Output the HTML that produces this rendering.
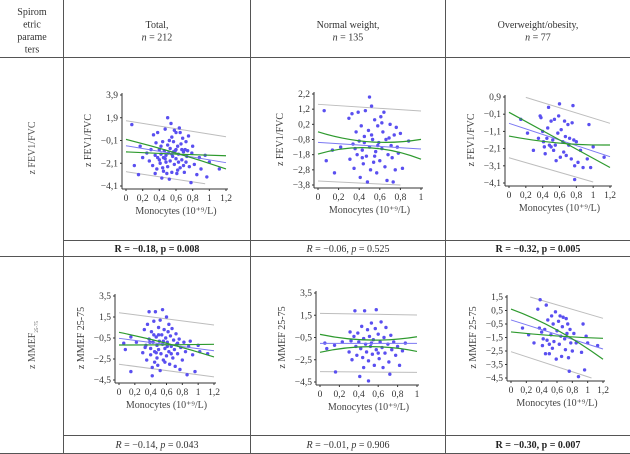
<!DOCTYPE html>
<html><head><meta charset="utf-8">
<style>
html,body{margin:0;padding:0;background:#fff;}
svg{display:block;font-family:"Liberation Serif",serif;}
</style></head>
<body>
<svg id="root" width="630" height="454" viewBox="0 0 630 454" xmlns="http://www.w3.org/2000/svg">
<g stroke="#555" stroke-width="1">
<line x1="0" y1="57.5" x2="630" y2="57.5"/>
<line x1="63.5" y1="240.5" x2="630" y2="240.5"/>
<line x1="0" y1="256.5" x2="630" y2="256.5"/>
<line x1="63.5" y1="435.5" x2="630" y2="435.5"/>
<line x1="0" y1="453.5" x2="630" y2="453.5"/>
<line x1="63.5" y1="0" x2="63.5" y2="454"/>
<line x1="250.5" y1="0" x2="250.5" y2="454"/>
<line x1="445.5" y1="0" x2="445.5" y2="454"/>
</g>
<g font-size="10" fill="#333" text-anchor="middle">
<text x="32" y="15"><tspan x="32">Spirom</tspan><tspan x="32" dy="12.5">etric</tspan><tspan x="32" dy="12.5">parame</tspan><tspan x="32" dy="12.5">ters</tspan></text>
<text x="157" y="28"><tspan x="157">Total,</tspan><tspan x="157" dy="12.5"><tspan font-style="italic">n</tspan> = 212</tspan></text>
<text x="348" y="28"><tspan x="348">Normal weight,</tspan><tspan x="348" dy="12.5"><tspan font-style="italic">n</tspan> = 135</tspan></text>
<text x="538" y="28"><tspan x="538">Overweight/obesity,</tspan><tspan x="538" dy="12.5"><tspan font-style="italic">n</tspan> = 77</tspan></text>
<text transform="translate(35,148) rotate(-90)" fill="#555">z FEV1/FVC</text>
<text transform="translate(35,345) rotate(-90)" fill="#555">z MMEF<tspan font-size="5" dy="3">25-75</tspan></text>
<text x="157" y="252" font-weight="bold" fill="#222">R = −0.18, p = 0.008</text>
<text x="348" y="252"><tspan font-style="italic">R</tspan> = −0.06, <tspan font-style="italic">p</tspan> = 0.525</text>
<text x="538" y="252" font-weight="bold" fill="#222">R = −0.32, p = 0.005</text>
<text x="157" y="448"><tspan font-style="italic">R</tspan> = −0.14, <tspan font-style="italic">p</tspan> = 0.043</text>
<text x="348" y="448"><tspan font-style="italic">R</tspan> = −0.01, <tspan font-style="italic">p</tspan> = 0.906</text>
<text x="538" y="448" font-weight="bold" fill="#222">R = −0.30, p = 0.007</text>
</g>
</svg>
<script>
// ---- data ----
const ticks1=[3.9,1.9,-0.1,-2.1,-4.1];
const ticks2=[2.2,1.2,0.2,-0.8,-1.8,-2.8,-3.8];
const ticks3=[0.9,-0.1,-1.1,-2.1,-3.1,-4.1];
const ticks4=[3.5,1.5,-0.5,-2.5,-4.5];
const ticks5=[3.5,1.5,-0.5,-2.5,-4.5];
const ticks6=[1.5,0.5,-0.5,-1.5,-2.5,-3.5,-4.5];
const xticksWide=[0,0.2,0.4,0.6,0.8,1,1.2];
const xticksNarrow=[0,0.2,0.4,0.6,0.8,1];

const pts1=[[0.07,1.3],[0.1,-2.3],[0.15,-3.1],[0.17,-0.6],[0.2,-1.6],[0.25,-1.2],[0.28,-1.9],[0.3,-0.9],[0.32,-2.3],[0.33,0.4],[0.35,-1.4],[0.36,-0.3],[0.37,-2.6],[0.38,0.6],[0.4,-1.8],[0.4,-0.9],[0.41,-2.1],[0.42,-1.3],[0.43,-3.4],[0.44,-0.2],[0.45,-1.6],[0.45,-2.8],[0.46,-1.0],[0.47,0.9],[0.48,-2.0],[0.48,-1.4],[0.5,1.9],[0.5,-0.5],[0.5,-2.4],[0.51,-1.2],[0.52,-3.5],[0.53,-0.8],[0.53,-1.9],[0.54,1.4],[0.55,0.2],[0.55,-2.9],[0.56,-1.5],[0.57,-0.2],[0.58,-2.2],[0.59,-1.0],[0.6,0.6],[0.6,-1.7],[0.61,-3.0],[0.62,-0.6],[0.63,-1.3],[0.64,1.0],[0.65,-2.5],[0.66,-0.4],[0.67,-1.8],[0.68,0.1],[0.69,-1.1],[0.7,-2.9],[0.71,-0.9],[0.72,-2.0],[0.73,-1.5],[0.75,0.3],[0.76,-2.4],[0.78,-3.8],[0.79,-1.2],[0.8,-0.6],[0.82,-2.2],[0.85,-3.1],[0.88,-1.6],[0.9,-2.6],[0.95,-1.4],[0.97,-3.3],[1.0,-2.0],[1.12,-2.6],[0.35,-3.0],[0.58,0.8],[0.44,-2.5],[0.62,-2.7],[0.42,-0.6],[0.47,-1.7],[0.52,-0.1],[0.57,-1.1],[0.63,-2.0],[0.67,-0.9],[0.72,-0.2],[0.38,-1.6],[0.49,-3.0],[0.55,-1.3],[0.6,-0.9],[0.65,0.6],[0.69,-2.3],[0.74,-1.0]];
const pts2=[[0.06,1.1],[0.08,-2.2],[0.14,-1.5],[0.16,-3.0],[0.22,-1.3],[0.3,0.6],[0.31,-2.1],[0.33,0.9],[0.34,-1.1],[0.35,-2.7],[0.37,-0.3],[0.38,-1.8],[0.39,1.0],[0.4,-0.9],[0.41,-3.3],[0.42,0.1],[0.43,-1.5],[0.44,-2.4],[0.45,-0.6],[0.46,1.1],[0.47,-1.9],[0.48,-3.6],[0.49,-0.2],[0.5,2.0],[0.5,-1.3],[0.51,-2.8],[0.52,1.4],[0.53,-0.8],[0.54,-2.3],[0.55,0.5],[0.56,-1.6],[0.57,-3.0],[0.58,0.1],[0.59,-1.0],[0.6,-2.2],[0.61,0.7],[0.62,-1.4],[0.63,-0.3],[0.64,1.0],[0.65,-2.6],[0.66,-0.8],[0.67,-3.5],[0.68,-1.8],[0.7,0.2],[0.71,-1.2],[0.72,-2.0],[0.74,-0.5],[0.75,-2.8],[0.76,0.0],[0.78,-1.7],[0.8,-0.4],[0.82,-2.7],[0.88,-0.9],[0.73,-3.6],[0.45,-1.0],[0.36,-1.4],[0.52,-0.5],[0.58,-1.2],[0.62,0.3],[0.69,-0.7],[0.77,-1.3],[0.43,-2.0],[0.55,-1.9]];
const pts3=[[0.14,-0.4],[0.22,-1.2],[0.29,-2.2],[0.35,-1.5],[0.37,-0.2],[0.38,-0.3],[0.4,-1.1],[0.41,-1.7],[0.42,-2.0],[0.43,-2.4],[0.45,-1.5],[0.46,-0.9],[0.47,0.3],[0.48,-1.9],[0.5,-0.5],[0.5,-2.0],[0.52,-1.6],[0.53,-2.2],[0.54,-0.4],[0.55,-1.9],[0.56,-2.8],[0.58,-1.2],[0.59,-0.2],[0.6,0.5],[0.61,-2.6],[0.62,-1.0],[0.64,-1.7],[0.65,-2.3],[0.66,-0.5],[0.67,-1.4],[0.68,-2.5],[0.7,-0.7],[0.71,-1.9],[0.72,-1.5],[0.74,-2.7],[0.75,-0.6],[0.76,0.4],[0.77,-1.6],[0.78,-3.1],[0.78,-3.9],[0.8,-1.7],[0.82,-2.9],[0.85,-2.2],[0.88,-3.2],[0.93,-2.7],[0.95,-0.7],[0.97,-3.2],[1.0,-2.0],[1.13,-2.6]];
const pts4=[[0.06,-1.0],[0.08,-1.6],[0.15,-0.4],[0.15,-3.7],[0.22,-0.9],[0.3,-1.9],[0.32,0.3],[0.34,-1.2],[0.35,-2.6],[0.36,0.8],[0.38,-0.6],[0.38,2.0],[0.4,-1.5],[0.4,-2.1],[0.41,0.1],[0.42,-3.3],[0.43,-0.9],[0.44,1.1],[0.45,-1.8],[0.45,-2.8],[0.46,2.0],[0.47,-0.4],[0.48,-1.2],[0.48,-2.4],[0.5,0.5],[0.5,-1.6],[0.51,-0.8],[0.52,-3.6],[0.52,1.2],[0.53,-2.0],[0.54,-0.2],[0.55,2.2],[0.55,-1.1],[0.56,-2.6],[0.57,0.3],[0.58,-1.5],[0.59,-0.5],[0.6,1.5],[0.6,-2.2],[0.61,-0.9],[0.62,0.1],[0.63,-1.8],[0.64,-3.0],[0.65,-0.3],[0.66,-1.3],[0.67,0.4],[0.68,-2.4],[0.69,-0.7],[0.7,-1.6],[0.71,-3.2],[0.72,-0.1],[0.73,-1.1],[0.74,-2.0],[0.76,-0.6],[0.77,-3.5],[0.78,-1.4],[0.8,-2.6],[0.82,-0.9],[0.84,-1.8],[0.86,-4.0],[0.88,-1.3],[0.9,-0.8],[0.93,-2.1],[0.96,-3.7],[1.0,-1.2],[1.02,-1.8],[1.12,-2.0],[0.33,-1.4],[0.44,-0.2],[0.49,-3.1],[0.58,-2.8],[0.63,0.8],[0.42,-4.1],[0.5,-0.2],[0.56,-0.8],[0.61,-1.3],[0.66,-2.0],[0.74,-1.0],[0.47,-1.9],[0.39,-0.9]];
const pts5=[[0.05,-1.0],[0.07,-1.5],[0.15,-1.2],[0.16,-3.6],[0.23,-0.9],[0.3,-1.8],[0.31,0.0],[0.32,-0.8],[0.33,-2.5],[0.35,-0.4],[0.36,1.9],[0.37,-1.3],[0.38,-2.1],[0.39,-0.1],[0.4,-0.9],[0.41,-4.0],[0.42,-1.5],[0.43,0.5],[0.44,-2.3],[0.45,-0.6],[0.46,1.9],[0.47,-1.1],[0.48,-1.8],[0.49,0.2],[0.5,-2.6],[0.5,-4.4],[0.51,-0.4],[0.52,-1.3],[0.53,0.8],[0.54,-2.0],[0.55,-0.7],[0.56,-3.0],[0.57,0.3],[0.58,2.0],[0.58,-1.6],[0.6,-0.2],[0.61,-2.4],[0.62,-0.9],[0.63,0.9],[0.64,-1.4],[0.65,-3.2],[0.66,-0.5],[0.67,-1.9],[0.68,0.4],[0.7,-1.1],[0.71,-2.7],[0.72,-3.8],[0.73,-0.3],[0.74,-1.6],[0.76,-0.9],[0.78,-2.1],[0.8,-1.3],[0.82,-3.0],[0.85,-1.7],[0.88,-1.0],[0.45,-3.2],[0.53,-1.0],[0.6,-1.9]];
const pts6=[[0.15,-0.8],[0.23,-1.3],[0.3,-1.9],[0.35,0.6],[0.37,-0.8],[0.38,1.3],[0.4,-1.1],[0.41,-2.1],[0.42,-1.6],[0.44,-0.9],[0.45,-2.7],[0.46,0.9],[0.47,-1.7],[0.48,-0.2],[0.5,-2.0],[0.5,-2.7],[0.52,-1.3],[0.53,0.1],[0.54,-2.3],[0.55,-0.5],[0.56,-1.8],[0.58,0.4],[0.59,-3.1],[0.6,-1.0],[0.62,-0.3],[0.63,-2.0],[0.64,0.1],[0.65,-1.4],[0.66,-2.9],[0.67,-0.7],[0.68,0.0],[0.7,-1.6],[0.71,-2.4],[0.72,-0.1],[0.73,-1.2],[0.74,-0.5],[0.75,-3.0],[0.76,-4.0],[0.77,-0.9],[0.78,-1.9],[0.8,-2.5],[0.82,-1.2],[0.85,-1.9],[0.88,-4.4],[0.92,-2.6],[0.94,-0.5],[0.96,-3.9],[0.98,-1.4],[1.0,-1.9],[1.13,-2.1]];

const reg1=[[0,-0.56],[1.2,-2.05]], ciU1=[[0,0.0],[0.6,-1.2],[1.2,-2.6]], ciL1=[[0,-1.1],[0.6,-1.3],[1.2,-1.44]], piU1=[[0,1.64],[1.2,0.23]], piL1=[[0,-2.84],[0.95,-3.9]];
const reg2=[[0,-0.99],[1,-1.43]], ciU2=[[0,-0.29],[0.5,-0.95],[1,-0.79]], ciL2=[[0,-1.76],[0.5,-1.35],[1,-2.1]], piU2=[[0,1.52],[1,1.08]], piL2=[[0,-3.54],[0.8,-3.8]];
const reg3=[[0,-0.63],[1.2,-2.57]], ciU3=[[0,0.01],[0.6,-1.6],[1.2,-3.2]], ciL3=[[0,-1.37],[0.6,-1.78],[1.2,-1.89]], piU3=[[0.2,0.88],[1.2,-0.63]], piL3=[[0,-2.63],[1,-4.04]];
const reg4=[[0,-0.53],[1.2,-1.71]], ciU4=[[0,0.04],[0.6,-1.0],[1.2,-2.3]], ciL4=[[0,-1.17],[0.6,-1.15],[1.2,-1.1]], piU4=[[0,1.91],[1.2,0.74]], piL4=[[0,-3.0],[1.2,-4.2]];
const reg5=[[0,-1.03],[1,-1.03]], ciU5=[[0,-0.22],[0.5,-0.73],[1,-0.43]], ciL5=[[0,-1.83],[0.5,-1.32],[1,-1.75]], piU5=[[0,1.67],[1,1.52]], piL5=[[0,-3.57],[1,-3.63]];
const reg6=[[0,-0.2],[1.2,-2.35]], ciU6=[[0,0.61],[0.6,-0.94],[1.2,-3.11]], ciL6=[[0,-1.09],[0.6,-1.39],[1.2,-1.56]], piU6=[[0.25,1.5],[1.2,-0.08]], piL6=[[0,-2.55],[1.05,-4.5]];

const NS="http://www.w3.org/2000/svg";
const root=document.getElementById('root');
function mk(tag,attrs,parent){const e=document.createElementNS(NS,tag);for(const k in attrs)e.setAttribute(k,attrs[k]);(parent||root).appendChild(e);return e;}
function fmt(v){return (v<0?"−":"")+String(Math.abs(v)).replace(".",",");}

function chart(name,g,yticks,xticks,pts,reg,ciU,ciL,piU,piL,ylabel){
  const ymax=yticks[0], ymin=yticks[yticks.length-1], xmax=xticks[xticks.length-1];
  const sx=v=>g.x0+(v/xmax)*(g.x1-g.x0);
  const sy=v=>g.yt+(ymax-v)/(ymax-ymin)*(g.yb-g.yt);
  const grp=mk('g',{});
  
  
  const ax=g.x0-4, ay=g.yb+3;
  const yax=mk('line',{x1:ax,y1:g.yt-2,x2:ax,y2:ay,stroke:'#333','stroke-width':1},grp);
  
  
  const xax=mk('line',{x1:ax,y1:ay,x2:g.x1+2,y2:ay,stroke:'#333','stroke-width':1},grp);
  
  
  yticks.forEach(t=>{
    mk('line',{x1:ax-2,y1:sy(t),x2:ax,y2:sy(t),stroke:'#333'},grp);
    const tx=mk('text',{x:ax-4,y:sy(t)+3,'text-anchor':'end','font-size':9.5,fill:'#333'},grp);
    tx.textContent=fmt(t);
    
    
  });
  xticks.forEach(t=>{
    mk('line',{x1:sx(t),y1:ay,x2:sx(t),y2:ay+2,stroke:'#333'},grp);
    const tx=mk('text',{x:sx(t),y:ay+12,'text-anchor':'middle','font-size':9.5,fill:'#333'},grp);
    tx.textContent=fmt(t);
    
    
  });
  const xl=mk('text',{x:(g.x0+g.x1)/2,y:g.yb+28,'text-anchor':'middle','font-size':10,fill:'#444'},grp);
  xl.textContent='Monocytes (10⁺⁹/L)';
  
  
  const yl=mk('text',{transform:`translate(${g.x0-35},${(g.yt+g.yb)/2}) rotate(-90)`,'text-anchor':'middle','font-size':10,fill:'#444'},grp);
  yl.textContent=ylabel;
  
  
  const line=(arr,col,w,nm)=>{
    let d='';
    if(arr.length===3){d=`M${sx(arr[0][0])},${sy(arr[0][1])} Q${2*sx(arr[1][0])-(sx(arr[0][0])+sx(arr[2][0]))/2},${2*sy(arr[1][1])-(sy(arr[0][1])+sy(arr[2][1]))/2} ${sx(arr[2][0])},${sy(arr[2][1])}`;}
    else d='M'+arr.map(p=>sx(p[0])+','+sy(p[1])).join(' L');
    const p=mk('path',{d:d,fill:'none',stroke:col,'stroke-width':w},grp);
    
    
  };
  line(piU,'#bdbdbd',1,'prediction-upper');
  line(piL,'#bdbdbd',1,'prediction-lower');
  pts.forEach(p=>{
    const c=mk('circle',{cx:sx(p[0]),cy:sy(p[1]),r:1.7,fill:'#5a4ff0'},grp);
    
    
  });
  line(reg,'#7b78f2',1,'regression-line');
  line(ciU,'#2e9a2e',1.2,'ci-upper');
  line(ciL,'#2e9a2e',1.2,'ci-lower');
}
chart('scatter-total-fev1',{x0:126,x1:226,yt:95,yb:186},ticks1,xticksWide,pts1,reg1,ciU1,ciL1,piU1,piL1,'z FEV1/FVC');
chart('scatter-normal-fev1',{x0:318,x1:421,yt:94,yb:185},ticks2,xticksNarrow,pts2,reg2,ciU2,ciL2,piU2,piL2,'z FEV1/FVC');
chart('scatter-over-fev1',{x0:509,x1:610,yt:97,yb:183},ticks3,xticksWide,pts3,reg3,ciU3,ciL3,piU3,piL3,'z FEV1/FVC');
chart('scatter-total-mmef',{x0:119,x1:214,yt:296,yb:380},ticks4,xticksWide,pts4,reg4,ciU4,ciL4,piU4,piL4,'z MMEF 25-75');
chart('scatter-normal-mmef',{x0:320,x1:417,yt:293,yb:382},ticks5,xticksNarrow,pts5,reg5,ciU5,ciL5,piU5,piL5,'z MMEF 25-75');
chart('scatter-over-mmef',{x0:511,x1:603,yt:297,yb:378},ticks6,xticksWide,pts6,reg6,ciU6,ciL6,piU6,piL6,'z MMEF 25-75');
</script>
</body></html>
